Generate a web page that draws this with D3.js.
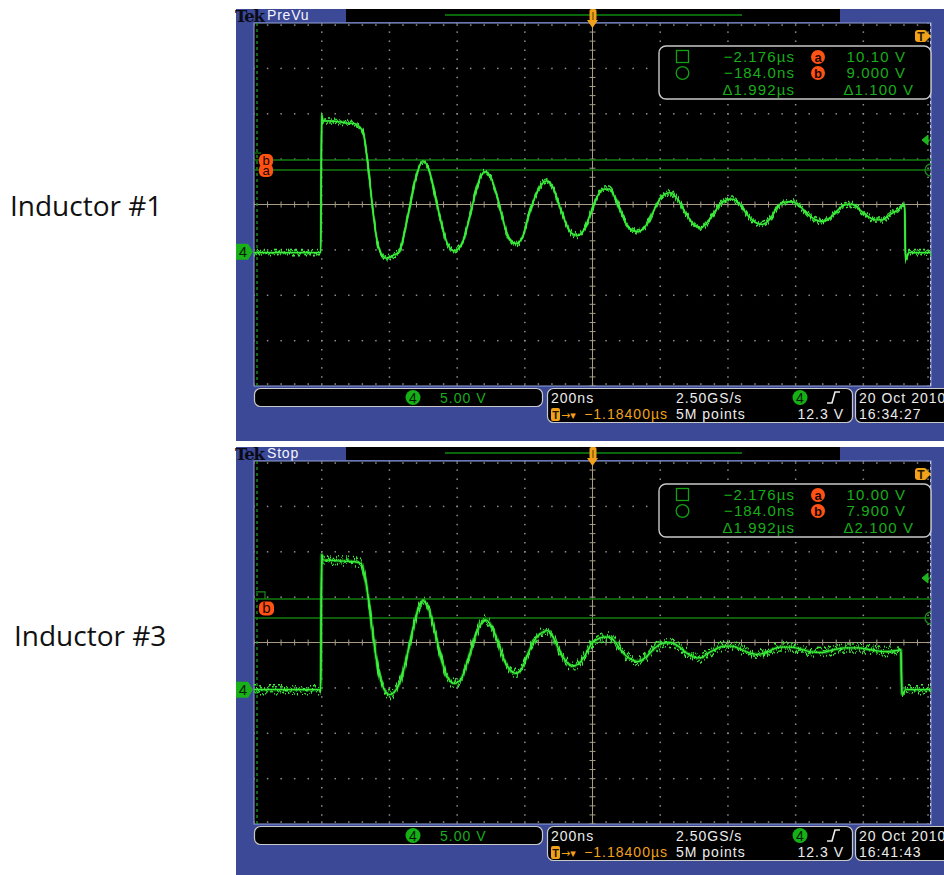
<!DOCTYPE html>
<html><head><meta charset="utf-8">
<script src="https://cdn.jsdelivr.net/npm/d3@7"></script>
<style>body{margin:0;background:#fff}svg{display:block}</style>
</head><body><svg id="c" width="944" height="875"></svg>
<script>
// ---------- data ----------
const panelLabels = ["Inductor #1", "Inductor #3"];
const panelModes = ["PreVu", "Stop"];
// trace 1 (time ns relative to screen centre, volts)
const trace1Time = [-1000,-803,-800,-796,-775,-746,-731,-702,-693,-678,-663,-648,-633,-610,-589,-572,-542,-521,-501,-486,-462,-433,-409,-388,-368,-347,-329,-315,-297,-279,-261,-244,-226,-208,-188,-167,-149,-134,-117,-99,-78,-61,-43,-25,-4,16,34,49,66,87,108,134,158,182,205,229,253,276,297,318,341,365,388,412,436,459,483,501,524,548,571,589,613,636,660,678,701,725,748,769,790,813,834,855,879,902,922,925,935,1000];
const trace1Volt = [-0.1,-0.1,15.1,14.4,14.4,14.3,14.2,14.1,13.9,13.2,9.4,4.3,0.6,-0.7,-0.4,0.0,4.6,8.3,10.0,9.3,5.7,1.3,0.1,0.7,3.0,6.3,8.4,8.8,7.9,5.7,3.0,1.3,0.9,1.5,4.0,6.3,7.5,7.8,7.1,5.2,3.1,2.0,1.8,2.4,4.4,6.2,6.9,6.9,6.0,4.1,2.6,2.2,2.9,4.6,6.1,6.5,5.7,4.2,3.1,2.6,3.3,4.6,5.6,5.8,5.2,4.0,3.2,3.0,3.6,5.0,5.5,5.5,5.0,4.1,3.5,3.3,3.7,4.6,5.2,5.2,4.6,3.9,3.5,3.5,4.1,4.6,5.2,-0.9,-0.1,-0.1];
// trace 2
const trace2Time = [-1000,-803,-800,-796,-746,-702,-684,-663,-648,-633,-601,-580,-563,-545,-527,-513,-501,-486,-468,-450,-430,-409,-388,-368,-347,-329,-315,-297,-279,-261,-244,-226,-208,-188,-167,-149,-134,-117,-99,-78,-61,-43,-25,-4,16,34,49,66,87,111,134,158,182,205,229,253,276,300,318,341,365,388,412,436,459,483,507,530,554,583,613,642,678,713,748,784,820,858,894,911,914,925,1000];
const trace2Volt = [0.0,0.0,14.9,14.3,14.2,14.1,13.9,10.3,5.9,2.2,-0.55,0.0,1.5,4.2,7.2,9.1,9.8,9.1,6.8,3.9,1.5,0.7,1.2,3.3,5.8,7.3,7.7,6.9,5.2,3.3,2.2,1.8,2.4,4.2,5.7,6.3,6.5,5.8,4.4,3.1,2.6,2.8,3.6,5.0,5.6,5.8,5.8,5.3,4.2,3.4,3.1,3.6,4.5,5.1,5.2,4.8,4.1,3.6,3.5,4.0,4.5,4.8,4.8,4.5,4.1,3.9,4.0,4.4,4.7,4.7,4.5,4.2,4.1,4.4,4.6,4.6,4.4,4.2,4.3,4.4,-0.5,0.0,0.0];
const traceTimes = [trace1Time, trace2Time];
const traceVolts = [trace1Volt, trace2Volt];
// cursor levels (volts) [a, b]
const cursorLevels = [[10.10, 9.000], [10.00, 7.900]];
const cursorTimeText1 = ["−2.176µs", "−184.0ns", "Δ1.992µs"];
const cursorVoltText1 = ["10.10 V", "9.000 V", "Δ1.100 V"];
const cursorTimeText2 = ["−2.176µs", "−184.0ns", "Δ1.992µs"];
const cursorVoltText2 = ["10.00 V", "7.900 V", "Δ2.100 V"];
const triggerLevel = 12.3;
const chScaleText = "5.00 V";
const timebaseText = ["200ns", "2.50GS/s", "12.3 V"];
const recordText = ["−1.18400µs", "5M points"];
const dateText = ["20 Oct  2010", "20 Oct  2010"];
const clockText = ["16:34:27", "16:41:43"];
const timeDomain = [-1000, 1000];      // 200 ns/div x 10 div
const voltDomain = [-14.8, 25.2];      // 5 V/div x 8 div, ch4 offset

// ---------- layout ----------
const PX = 254, PW = 677, PH = 363;
const panelTops = [23, 461];
const BLUE = "#3b4996", GREEN = "#3ef03e", TXTGREEN = "#19ad19",
      ORANGE = "#ff5214", TORANGE = "#f2a21a", GRID = "#8f8f8f", CENTER = "#a89c86";
const svg = d3.select("#c");
const defs = svg.append("defs");
const FONT = "'Liberation Sans', Arial, sans-serif";

function noiseFilter(id, scale, seed, P, fx) {
  const f = defs.append("filter").attr("id", id).attr("filterUnits", "userSpaceOnUse")
    .attr("x", PX).attr("y", P - 5).attr("width", PW).attr("height", PH + 10);
  f.append("feTurbulence").attr("type", "fractalNoise").attr("baseFrequency", fx + " 0.03")
    .attr("numOctaves", 2).attr("seed", seed).attr("result", "t");
  f.append("feColorMatrix").attr("in", "t").attr("type", "matrix")
    .attr("values", "0 0 0 0 0.5  0 3.2 0 0 -1.1  0 0 0 0 0  0 0 0 0 1").attr("result", "m");
  f.append("feDisplacementMap").attr("in", "SourceGraphic").attr("in2", "m")
    .attr("scale", scale).attr("xChannelSelector", "R").attr("yChannelSelector", "G");
}

function drawPanel(i) {
  const P = panelTops[i], B = P + PH;
  const g = svg.append("g");
  const x = d3.scaleLinear().domain(timeDomain).range([PX, PX + PW]);
  const y = d3.scaleLinear().domain(voltDomain).range([B, P]);

  // blue bezel
  g.append("rect").attr("x", 236).attr("y", P - 14).attr("width", 708).attr("height", PH + 14 + 55).attr("fill", BLUE);
  // header
  g.append("text").attr("x", 235).attr("y", P - 1).attr("font-family", "'DejaVu Serif', serif")
    .attr("font-weight", "bold").attr("font-size", 16.5).attr("fill", "#0b0b18").attr("letter-spacing", -1.2).text("Tek");
  g.append("text").attr("x", 267).attr("y", P - 3).attr("font-family", FONT)
    .attr("font-size", 14).attr("fill", "#f4f4ff").attr("letter-spacing", 0.8).text(panelModes[i]);
  g.append("rect").attr("x", 346).attr("y", P - 14).attr("width", 494).attr("height", 13).attr("fill", "#000");
  g.append("line").attr("x1", 445).attr("x2", 742).attr("y1", P - 8).attr("y2", P - 8).attr("stroke", "#0f8a0f").attr("stroke-width", 1.5);

  // plot area
  g.append("rect").attr("x", PX).attr("y", P).attr("width", PW).attr("height", PH).attr("fill", "#000")
    .attr("stroke", "#94a3dc").attr("stroke-width", 1);
  const clipId = "clip" + i;
  defs.append("clipPath").attr("id", clipId).append("rect").attr("x", PX).attr("y", P).attr("width", PW).attr("height", PH);
  const pg = g.append("g").attr("clip-path", `url(#${clipId})`);

  // graticule
  const xd = d3.scaleLinear().domain([0, 10]).range([PX, PX + PW]);
  const yd = d3.scaleLinear().domain([0, 8]).range([P, B]);
  const dots = [];
  for (let c = 1; c < 10; c++) if (c !== 5) for (let k = 0; k <= 40; k++) dots.push([xd(c), yd(k / 5)]);
  for (let r = 1; r < 8; r++) if (r !== 4) for (let k = 0; k <= 50; k++) dots.push([xd(k / 5), yd(r)]);
  for (let k = 0; k <= 50; k++) { dots.push([xd(k / 5), P + 2]); dots.push([xd(k / 5), B - 2]); }
  for (let k = 0; k <= 40; k++) dots.push([PX + PW - 3, yd(k / 5)]);
  pg.selectAll(null).data(dots).join("rect").attr("x", d => d[0] - 0.7).attr("y", d => d[1] - 0.7)
    .attr("width", 1.5).attr("height", 1.5).attr("fill", GRID);
  // centre crosshair
  pg.append("line").attr("x1", xd(5)).attr("x2", xd(5)).attr("y1", P).attr("y2", B).attr("stroke", CENTER).attr("stroke-width", 1);
  pg.append("line").attr("x1", PX).attr("x2", PX + PW).attr("y1", yd(4)).attr("y2", yd(4)).attr("stroke", CENTER).attr("stroke-width", 1);
  pg.selectAll(null).data(d3.range(0, 51)).join("line").attr("x1", k => xd(k / 5)).attr("x2", k => xd(k / 5))
    .attr("y1", yd(4) - 3).attr("y2", yd(4) + 3).attr("stroke", CENTER).attr("stroke-width", 1);
  pg.selectAll(null).data(d3.range(0, 41)).join("line").attr("y1", k => yd(k / 5)).attr("y2", k => yd(k / 5))
    .attr("x1", xd(5) - 3).attr("x2", xd(5) + 3).attr("stroke", CENTER).attr("stroke-width", 1);
  // edge markers
  pg.append("line").attr("x1", PX + 3).attr("x2", PX + 3).attr("y1", P).attr("y2", B)
    .attr("stroke", "#1f9a1f").attr("stroke-width", 1.3).attr("stroke-dasharray", "3,3");
  pg.append("line").attr("x1", PX + PW - 0.5).attr("x2", PX + PW - 0.5).attr("y1", P).attr("y2", B)
    .attr("stroke", "#b8c4ee").attr("stroke-width", 1).attr("stroke-dasharray", "3,3");

  // cursors
  const lv = cursorLevels[i];
  pg.selectAll(null).data(lv).join("line").attr("x1", PX).attr("x2", PX + PW)
    .attr("y1", d => y(d)).attr("y2", d => y(d)).attr("stroke", "#127d12").attr("stroke-width", 1.6);

  // trace
  const data = d3.zip(traceTimes[i], traceVolts[i]);
  const line = d3.line().x(d => x(d[0])).y(d => y(d[1])).curve(d3.curveMonotoneX);
  const amp = i === 0 ? 6 : 10;
  noiseFilter("nA" + i, amp, i === 0 ? 7 : 13, P, 0.6);
  noiseFilter("nB" + i, amp * 0.8, i === 0 ? 21 : 31, P, 0.9);
  pg.append("path").attr("d", line(data)).attr("fill", "none").attr("stroke", "#1c9f1c").attr("stroke-width", i === 0 ? 2.6 : 3.6).attr("opacity", 0.55);
  pg.append("g").attr("filter", "url(#nA" + i + ")").append("path").attr("d", line(data)).attr("fill", "none")
    .attr("stroke", GREEN).attr("stroke-width", 1.6);
  pg.append("g").attr("filter", "url(#nB" + i + ")").append("path").attr("d", line(data)).attr("fill", "none")
    .attr("stroke", "#2fd22f").attr("stroke-width", 1.4);
  pg.append("path").attr("d", line(data)).attr("fill", "none").attr("stroke", GREEN).attr("stroke-width", 1.3);

  // right-edge markers: trigger level arrow and cursor circle
  const ty = y(triggerLevel);
  g.append("path").attr("d", `M${PX + PW - 9},${ty} L${PX + PW - 3},${ty - 5} L${PX + PW - 3},${ty + 5} Z M${PX + PW - 3},${ty} L${PX + PW},${ty}`)
    .attr("fill", "#1fb51f").attr("stroke", "#1fb51f").attr("stroke-width", 1);
  const cy = y(lv[1]);
  g.append("path").attr("d", `M${PX + PW},${cy - 6} A6,6 0 0 0 ${PX + PW},${cy + 6}`).attr("fill", "none")
    .attr("stroke", "#1a8a1a").attr("stroke-width", 1.3);

  // left labels: ground marker and cursor tags
  const gy = y(0);
  g.append("path").attr("d", `M236,${gy - 8} L248,${gy - 8} L253,${gy} L248,${gy + 8} L236,${gy + 8} Z`).attr("fill", "#19b019");
  g.append("text").attr("x", 243).attr("y", gy + 5.5).attr("text-anchor", "middle").attr("font-family", FONT)
    .attr("font-size", 15).attr("fill", "#062006").text("4");
  if (i === 0) {
    g.append("line").attr("x1", PX).attr("x2", PX + 7).attr("y1", y(lv[0]) - 7).attr("y2", y(lv[0]) - 7).attr("stroke", "#127d12").attr("stroke-width", 1.2);
    [["a", y(lv[1]) - 6], ["b", y(lv[0]) - 6]].forEach(([t, yy]) => {
      g.append("rect").attr("x", 259).attr("y", yy).attr("width", 14).attr("height", 13).attr("rx", 5).attr("fill", ORANGE);
      g.append("text").attr("x", 266).attr("y", yy + 11).attr("text-anchor", "middle").attr("font-family", FONT)
        .attr("font-size", 13).attr("fill", "#200800").text(t);
    });
  } else {
    g.append("path").attr("d", `M${PX + 2},${y(lv[0]) - 7} L${PX + 11},${y(lv[0]) - 7} L${PX + 11},${y(lv[0])}`)
      .attr("fill", "none").attr("stroke", "#1a8a1a").attr("stroke-width", 1.2);
    const yy = (y(lv[0]) + y(lv[1])) / 2 - 7;
    g.append("rect").attr("x", 259).attr("y", yy).attr("width", 15).attr("height", 14).attr("rx", 5).attr("fill", ORANGE);
    g.append("text").attr("x", 266.5).attr("y", yy + 12).attr("text-anchor", "middle").attr("font-family", FONT)
      .attr("font-size", 15).attr("fill", "#200800").text("b");
  }

  // trigger position marker (top) and T marker (right)
  const tx = x(0);
  g.append("rect").attr("x", tx - 3).attr("y", P - 14).attr("width", 7).attr("height", 12).attr("rx", 2).attr("fill", TORANGE);
  g.append("path").attr("d", `M${tx - 5.5},${P - 3} L${tx + 5.5},${P - 3} L${tx},${P + 5} Z`).attr("fill", TORANGE);
  g.append("line").attr("x1", tx + 0.5).attr("x2", tx + 0.5).attr("y1", P - 11).attr("y2", P - 3).attr("stroke", "#5a3a00").attr("stroke-width", 1);
  g.append("rect").attr("x", PX + PW - 16).attr("y", P + 7).attr("width", 12).attr("height", 12).attr("rx", 3).attr("fill", TORANGE);
  g.append("path").attr("d", `M${PX + PW - 4},${P + 9} L${PX + PW},${P + 13} L${PX + PW - 4},${P + 17} Z`).attr("fill", TORANGE);
  g.append("text").attr("x", PX + PW - 10).attr("y", P + 17.5).attr("text-anchor", "middle").attr("font-family", FONT)
    .attr("font-weight", "bold").attr("font-size", 12).attr("fill", "#2a1800").text("T");

  // cursor readout box
  const rb = g.append("g");
  rb.append("rect").attr("x", 659).attr("y", P + 23).attr("width", 272).attr("height", 53).attr("rx", 7)
    .attr("fill", "#000").attr("stroke", "#c9c9c9").attr("stroke-width", 1.4);
  rb.append("rect").attr("x", 676.5).attr("y", P + 27.5).attr("width", 12).attr("height", 12).attr("fill", "none").attr("stroke", "#13a013").attr("stroke-width", 1.3);
  rb.append("circle").attr("cx", 682.5).attr("cy", P + 50).attr("r", 6.3).attr("fill", "none").attr("stroke", "#13a013").attr("stroke-width", 1.3);
  const tt = i === 0 ? cursorTimeText1 : cursorTimeText2;
  const vt = i === 0 ? cursorVoltText1 : cursorVoltText2;
  const rowY = [P + 39, P + 55, P + 72];
  tt.forEach((s, k) => rb.append("text").attr("x", 795).attr("y", rowY[k]).attr("text-anchor", "end")
    .attr("font-family", FONT).attr("font-size", 15).attr("letter-spacing", 1.1).attr("fill", TXTGREEN).text(s));
  vt.forEach((s, k) => rb.append("text").attr("x", k === 2 ? 914 : 906).attr("y", rowY[k]).attr("text-anchor", "end")
    .attr("font-family", FONT).attr("font-size", 15).attr("letter-spacing", 1.1).attr("fill", TXTGREEN).text(s));
  ["a", "b"].forEach((s, k) => {
    rb.append("circle").attr("cx", 818).attr("cy", rowY[k] - 5).attr("r", 7).attr("fill", ORANGE);
    rb.append("text").attr("x", 818).attr("y", rowY[k] - 0.5).attr("text-anchor", "middle").attr("font-family", FONT)
      .attr("font-weight", "bold").attr("font-size", 13).attr("fill", "#1a0600").text(s);
  });

  // bottom boxes
  const bb = g.append("g").attr("font-family", FONT).attr("font-size", 14).attr("letter-spacing", 1);
  bb.append("rect").attr("x", 254.5).attr("y", B + 2.5).attr("width", 288).attr("height", 18).attr("rx", 6)
    .attr("fill", "#000").attr("stroke", "#c9c9c9").attr("stroke-width", 1.2);
  bb.append("rect").attr("x", 547.5).attr("y", B + 2.5).attr("width", 305).attr("height", 34).attr("rx", 6)
    .attr("fill", "#000").attr("stroke", "#c9c9c9").attr("stroke-width", 1.2);
  bb.append("rect").attr("x", 855.5).attr("y", B + 2.5).attr("width", 100).attr("height", 34).attr("rx", 6)
    .attr("fill", "#000").attr("stroke", "#c9c9c9").attr("stroke-width", 1.2);
  const chip = (cx, cyy) => {
    bb.append("circle").attr("cx", cx).attr("cy", cyy).attr("r", 7.5).attr("fill", "#15b015");
    bb.append("text").attr("x", cx).attr("y", cyy + 5).attr("text-anchor", "middle").attr("letter-spacing", 0)
      .attr("fill", "#041804").text("4");
  };
  chip(413, B + 11.5);
  bb.append("text").attr("x", 440).attr("y", B + 17).attr("fill", TXTGREEN).text(chScaleText);
  bb.append("text").attr("x", 551).attr("y", B + 17).attr("fill", "#ececec").text(timebaseText[0]);
  bb.append("text").attr("x", 676).attr("y", B + 17).attr("fill", "#ececec").text(timebaseText[1]);
  chip(800, B + 11.5);
  bb.append("path").attr("d", `M827,${B + 17} L832,${B + 17} L835,${B + 6} L840,${B + 6}`).attr("fill", "none")
    .attr("stroke", "#ececec").attr("stroke-width", 1.6);
  bb.append("rect").attr("x", 551).attr("y", B + 22).attr("width", 9).attr("height", 13).attr("rx", 2).attr("fill", TORANGE);
  bb.append("text").attr("x", 555.5).attr("y", B + 33).attr("text-anchor", "middle").attr("font-size", 11)
    .attr("font-weight", "bold").attr("letter-spacing", 0).attr("fill", "#2a1800").text("T");
  bb.append("text").attr("x", 561).attr("y", B + 33).attr("font-family", "'DejaVu Sans', sans-serif").attr("font-size", 11)
    .attr("letter-spacing", 0).attr("fill", TORANGE).text("→▾");
  bb.append("text").attr("x", 668).attr("y", B + 33).attr("text-anchor", "end").attr("fill", TORANGE).text(recordText[0]);
  bb.append("text").attr("x", 676).attr("y", B + 33).attr("fill", "#ececec").text(recordText[1]);
  bb.append("text").attr("x", 844).attr("y", B + 33).attr("text-anchor", "end").attr("fill", "#ececec").text(timebaseText[2]);
  bb.append("text").attr("x", 859).attr("y", B + 17).attr("fill", "#ececec").text(dateText[i]);
  bb.append("text").attr("x", 859).attr("y", B + 33).attr("fill", "#ececec").text(clockText[i]);

  // side label
  svg.append("text").attr("x", i === 0 ? 10 : 14).attr("y", i === 0 ? 216 : 646)
    .attr("font-family", "'Open Sans', sans-serif").attr("font-size", 28).attr("fill", "#111").text(panelLabels[i]);
}
drawPanel(0);
drawPanel(1);
</script></body></html>
